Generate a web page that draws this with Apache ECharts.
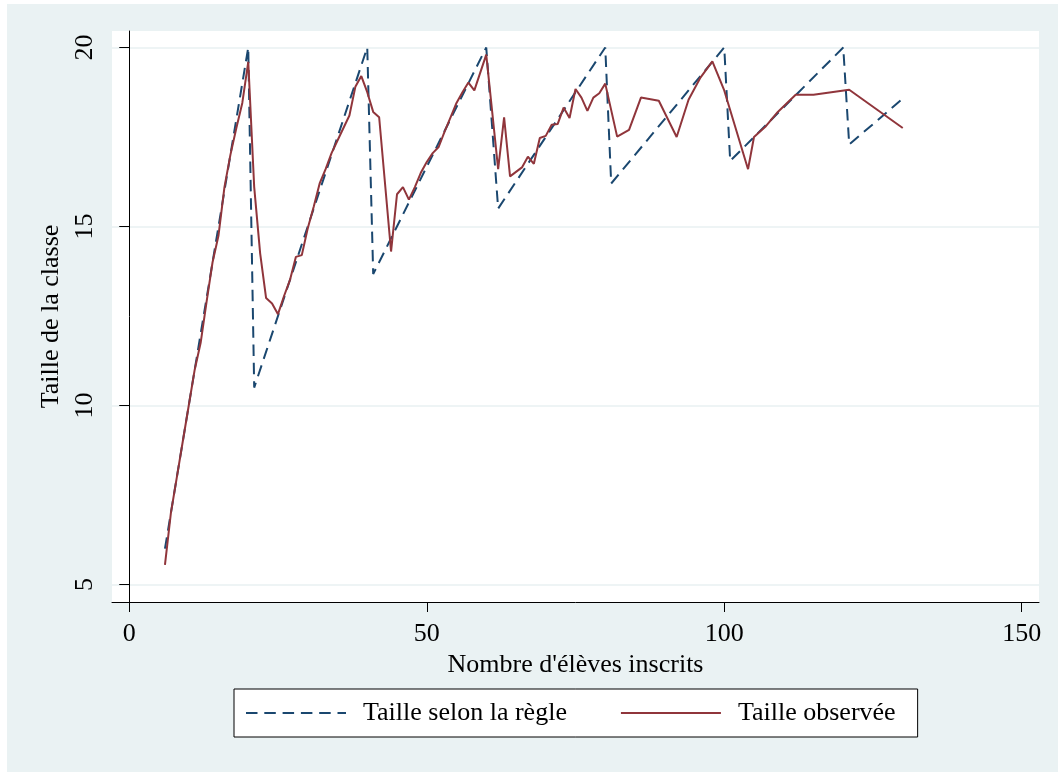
<!DOCTYPE html>
<html>
<head>
<meta charset="utf-8">
<script src="https://cdn.jsdelivr.net/npm/echarts@6/dist/echarts.min.js"></script>
<style>
  html, body { margin: 0; padding: 0; background: #fff; }
  #chart { position: absolute; left: 7px; top: 4px; width: 1051px; height: 768px; }
</style>
</head>
<body>
<div id="chart"></div>
<script>
// Taille selon la règle (sommets de la ligne en tirets)
const ruleEnrol = [6, 20, 21, 40, 41, 60, 62, 80, 81, 100, 101, 120, 121, 130];
const ruleSize = [6, 20, 10.5, 20, 13.67, 20, 15.5, 20, 16.2, 20, 16.83, 20, 17.29, 18.57];

// Taille observée
const obsEnrol = [6, 7, 8, 9, 10, 11, 12, 13, 14, 15, 16, 17, 18, 19, 20,
  21, 22, 23, 24, 25, 26, 27, 28, 29, 30, 31, 32, 33, 34, 35, 36, 37, 38, 39, 40,
  41, 42, 44, 45, 46, 47, 48, 49, 50, 51, 52, 53, 54, 55, 56, 57, 58, 60,
  62, 63, 64, 66, 67, 68, 69, 70, 71, 72, 73, 74, 75, 76, 77, 78, 79, 80,
  82, 84, 86, 89, 92, 94, 96, 98, 100, 104, 105, 107, 109, 112, 115, 121, 130];
const obsSize = [5.55, 7.0, 8.0, 9.0, 10.0, 11.0, 11.75, 12.9, 14.0, 14.75, 16.1, 17.0, 17.75, 18.45, 19.6,
  16.1, 14.25, 13.0, 12.85, 12.55, 13.05, 13.5, 14.15, 14.2, 14.95, 15.55, 16.2, 16.6, 17.05, 17.4, 17.75, 18.1, 18.9, 19.2, 18.75,
  18.2, 18.05, 14.3, 15.9, 16.1, 15.75, 16.1, 16.5, 16.8, 17.05, 17.22, 17.65, 18.05, 18.45, 18.75, 19.02, 18.8, 19.8,
  16.6, 18.05, 16.4, 16.65, 16.95, 16.75, 17.47, 17.53, 17.84, 17.86, 18.32, 18.03, 18.84, 18.6, 18.23, 18.6, 18.72, 18.99,
  17.51, 17.7, 18.6, 18.51, 17.5, 18.54, 19.16, 19.61, 18.8, 16.6, 17.5, 17.8, 18.2, 18.68, 18.68, 18.82, 17.75];

const xTicks = [0, 50, 100, 150];
const yTicks = [5, 10, 15, 20];

const FONT = "Liberation Serif";
const zip = (xs, ys) => xs.map((x, i) => [x, ys[i]]);

var myChart = echarts.init(document.getElementById("chart"));
myChart.setOption({
  backgroundColor: "#EAF2F3",
  animation: false,
  textStyle: { fontFamily: FONT, color: "#000" },
  grid: {
    left: 105, right: 19, top: 27, bottom: 170,
    show: true, backgroundColor: "#fff", borderWidth: 0,
  },
  legend: {
    left: 227, top: 685,
    padding: [11, 22, 11, 11],
    itemGap: 53,
    itemWidth: 100, itemHeight: 14,
    backgroundColor: "#fff",
    borderColor: "#000", borderWidth: 1,
    itemStyle: { opacity: 0 },
    textStyle: { fontFamily: FONT, fontSize: 26, color: "#000", padding: [0, 0, 0, 12] },
    data: ["Taille selon la règle", "Taille observée"],
  },
  xAxis: {
    type: "value",
    min: -2.9, max: 152.9,
    name: "Nombre d'élèves inscrits",
    nameLocation: "middle",
    nameGap: 41,
    nameTextStyle: { fontFamily: FONT, fontSize: 26, color: "#000" },
    axisLine: { lineStyle: { color: "#000", width: 1 } },
    axisTick: { customValues: xTicks, length: 10, lineStyle: { color: "#000" } },
    axisLabel: { customValues: xTicks, margin: 19, fontFamily: FONT, fontSize: 26, color: "#000" },
    splitLine: { show: false },
  },
  yAxis: {
    type: "value",
    min: 4.51, max: 20.46,
    name: "Taille de la classe",
    nameLocation: "middle",
    nameGap: 33,
    nameTextStyle: { fontFamily: FONT, fontSize: 26, color: "#000" },
    axisLine: { show: true, lineStyle: { color: "#000", width: 1 } },
    axisTick: { show: true, customValues: yTicks, length: 10, lineStyle: { color: "#000" } },
    axisLabel: { customValues: yTicks, rotate: 90, margin: 14, fontFamily: FONT, fontSize: 26, color: "#000" },
    splitLine: { show: true, lineStyle: { color: "#E8F0F2", width: 1.5 } },
  },
  series: [
    {
      name: "Taille selon la règle",
      type: "line",
      data: zip(ruleEnrol, ruleSize),
      symbol: "none",
      lineStyle: { color: "#1A476F", width: 2, type: [11.5, 6.8] },
      itemStyle: { color: "#1A476F" },
    },
    {
      name: "Taille observée",
      type: "line",
      data: zip(obsEnrol, obsSize),
      symbol: "none",
      lineStyle: { color: "#90353B", width: 2 },
      itemStyle: { color: "#90353B" },
    },
  ],
});
</script>
</body>
</html>
